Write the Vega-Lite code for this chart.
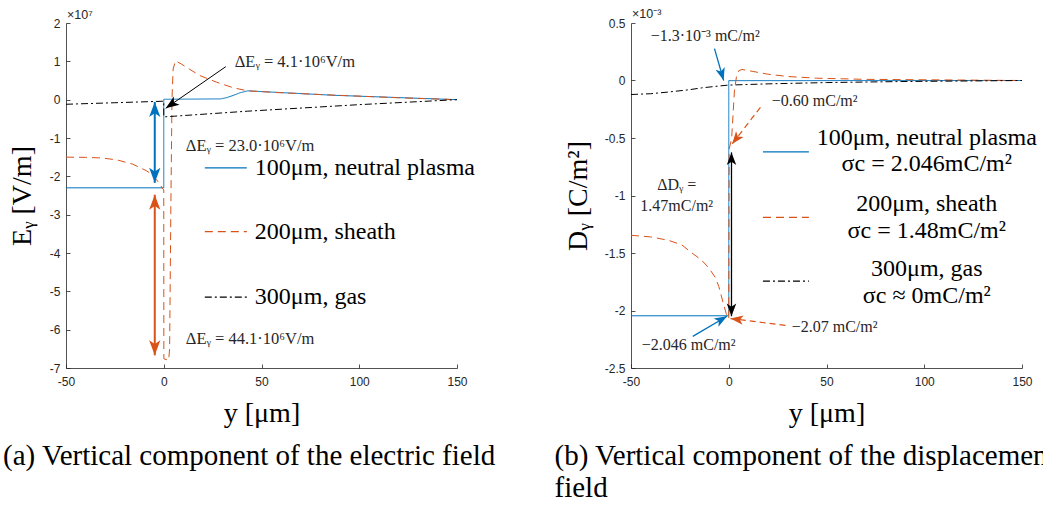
{
  "$schema": "https://vega.github.io/schema/vega-lite/v6.json",
  "background": "white",
  "padding": {"left": 3, "top": 8, "right": 0, "bottom": 0},
  "bounds": "flush",
  "spacing": 174,
  "config": {
    "view": {"stroke": null},
    "axis": {
      "grid": false,
      "domainColor": "#262626",
      "domainWidth": 0.8,
      "tickColor": "#262626",
      "tickWidth": 0.8,
      "tickSize": -4,
      "labelOverlap": false,
      "labelBound": false,
      "labelFlush": false,
      "labelColor": "#262626",
      "labelFont": "Liberation Sans",
      "labelFontSize": 12,
      "titleFont": "Liberation Serif",
      "titleFontSize": 28,
      "titleFontWeight": "normal",
      "titleColor": "black"
    },
    "axisX": {"labelPadding": 12, "titlePadding": 12, "labelOverlap": false},
    "axisY": {"labelPadding": 10, "titlePadding": 8, "labelOverlap": false},
    "axisQuantitative": {"labelOverlap": false},
    "text": {"font": "Liberation Serif"}
  },
  "datasets": {
    "fieldE": [
      {"s": "100μm", "i": 1, "x": -50, "v": -2.3},
      {"s": "100μm", "i": 2, "x": 0, "v": -2.3},
      {"s": "100μm", "i": 3, "x": 0, "v": 0.01},
      {"s": "100μm", "i": 4, "x": 29, "v": 0.02},
      {"s": "100μm", "i": 5, "x": 32, "v": 0.05},
      {"s": "100μm", "i": 6, "x": 35.5, "v": 0.11},
      {"s": "100μm", "i": 7, "x": 39, "v": 0.18},
      {"s": "100μm", "i": 8, "x": 43, "v": 0.23},
      {"s": "100μm", "i": 9, "x": 86.6, "v": 0.115},
      {"s": "100μm", "i": 10, "x": 150, "v": 0},
      {"s": "200μm", "i": 1, "x": -50, "v": -1.5},
      {"s": "200μm", "i": 2, "x": -40, "v": -1.505},
      {"s": "200μm", "i": 3, "x": -32, "v": -1.52},
      {"s": "200μm", "i": 4, "x": -24, "v": -1.57},
      {"s": "200μm", "i": 5, "x": -16, "v": -1.68},
      {"s": "200μm", "i": 6, "x": -9, "v": -1.85},
      {"s": "200μm", "i": 7, "x": -6, "v": -1.95},
      {"s": "200μm", "i": 8, "x": -3.7, "v": -2.09},
      {"s": "200μm", "i": 9, "x": -2, "v": -2.2},
      {"s": "200μm", "i": 10, "x": -0.5, "v": -2.33},
      {"s": "200μm", "i": 11, "x": 0, "v": -2.35},
      {"s": "200μm", "i": 12, "x": 0.05, "v": -6.76},
      {"s": "200μm", "i": 13, "x": 2.5, "v": -6.8},
      {"s": "200μm", "i": 14, "x": 3, "v": -6.5},
      {"s": "200μm", "i": 15, "x": 3.6, "v": -3},
      {"s": "200μm", "i": 16, "x": 4.2, "v": 0},
      {"s": "200μm", "i": 17, "x": 4.8, "v": 0.8},
      {"s": "200μm", "i": 18, "x": 6, "v": 1.01},
      {"s": "200μm", "i": 19, "x": 9, "v": 0.93},
      {"s": "200μm", "i": 20, "x": 13, "v": 0.8},
      {"s": "200μm", "i": 21, "x": 18.4, "v": 0.63},
      {"s": "200μm", "i": 22, "x": 27, "v": 0.456},
      {"s": "200μm", "i": 23, "x": 35.5, "v": 0.31},
      {"s": "200μm", "i": 24, "x": 43, "v": 0.23},
      {"s": "200μm", "i": 25, "x": 60, "v": 0.18},
      {"s": "200μm", "i": 26, "x": 86.6, "v": 0.12},
      {"s": "200μm", "i": 27, "x": 120, "v": 0.05},
      {"s": "200μm", "i": 28, "x": 150, "v": 0},
      {"s": "300μm", "i": 1, "x": -50, "v": -0.12},
      {"s": "300μm", "i": 2, "x": -25, "v": -0.08},
      {"s": "300μm", "i": 3, "x": 0, "v": -0.04},
      {"s": "300μm", "i": 4, "x": 0, "v": -0.45},
      {"s": "300μm", "i": 5, "x": 43, "v": -0.3},
      {"s": "300μm", "i": 6, "x": 100, "v": -0.13},
      {"s": "300μm", "i": 7, "x": 150, "v": 0}
    ],
    "fieldD": [
      {"s": "100μm", "i": 1, "x": -50, "v": -2.046},
      {"s": "100μm", "i": 2, "x": 0, "v": -2.046},
      {"s": "100μm", "i": 3, "x": 0, "v": -0.0013},
      {"s": "100μm", "i": 4, "x": 150, "v": 0},
      {"s": "200μm", "i": 1, "x": -50, "v": -1.346},
      {"s": "200μm", "i": 2, "x": -40, "v": -1.36},
      {"s": "200μm", "i": 3, "x": -30.7, "v": -1.39},
      {"s": "200μm", "i": 4, "x": -24, "v": -1.43},
      {"s": "200μm", "i": 5, "x": -18.8, "v": -1.5},
      {"s": "200μm", "i": 6, "x": -14, "v": -1.56},
      {"s": "200μm", "i": 7, "x": -10.2, "v": -1.63},
      {"s": "200μm", "i": 8, "x": -7, "v": -1.71},
      {"s": "200μm", "i": 9, "x": -5.1, "v": -1.79},
      {"s": "200μm", "i": 10, "x": -2.6, "v": -1.95},
      {"s": "200μm", "i": 11, "x": -0.9, "v": -2.05},
      {"s": "200μm", "i": 12, "x": 0, "v": -2.07},
      {"s": "200μm", "i": 13, "x": 0.2, "v": -0.6},
      {"s": "200μm", "i": 14, "x": 1.5, "v": -0.5},
      {"s": "200μm", "i": 15, "x": 2.9, "v": -0.09},
      {"s": "200μm", "i": 16, "x": 4, "v": 0.04},
      {"s": "200μm", "i": 17, "x": 5.1, "v": 0.085},
      {"s": "200μm", "i": 18, "x": 6.8, "v": 0.096},
      {"s": "200μm", "i": 19, "x": 12, "v": 0.08},
      {"s": "200μm", "i": 20, "x": 20, "v": 0.055},
      {"s": "200μm", "i": 21, "x": 30, "v": 0.035},
      {"s": "200μm", "i": 22, "x": 45, "v": 0.02},
      {"s": "200μm", "i": 23, "x": 70, "v": 0.01},
      {"s": "200μm", "i": 24, "x": 150, "v": 0},
      {"s": "300μm", "i": 1, "x": -50, "v": -0.122},
      {"s": "300μm", "i": 2, "x": -40, "v": -0.115},
      {"s": "300μm", "i": 3, "x": -30.7, "v": -0.1},
      {"s": "300μm", "i": 4, "x": -20, "v": -0.08},
      {"s": "300μm", "i": 5, "x": -13.8, "v": -0.064},
      {"s": "300μm", "i": 6, "x": -5, "v": -0.048},
      {"s": "300μm", "i": 7, "x": 0, "v": -0.04},
      {"s": "300μm", "i": 8, "x": 20.5, "v": -0.029},
      {"s": "300μm", "i": 9, "x": 50, "v": -0.018},
      {"s": "300μm", "i": 10, "x": 88.6, "v": -0.009},
      {"s": "300μm", "i": 11, "x": 150, "v": 0}
    ]
  },
  "hconcat": [
    {
      "width": 391,
      "height": 345,
      "title": {
        "text": "(a) Vertical component of the electric field",
        "orient": "bottom", "anchor": "start", "frame": "group",
        "dx": -63, "offset": 15,
        "font": "Liberation Serif", "fontSize": 29, "fontWeight": "normal", "color": "black"
      },
      "layer": [
        {
          "data": {"name": "fieldE"},
          "mark": {"type": "line", "strokeWidth": 1},
          "encoding": {
            "x": {"field": "x", "type": "quantitative",
                  "scale": {"domain": [-50, 150], "nice": false, "zero": false},
                  "axis": {"values": [-50, 0, 50, 100, 150], "labelExpr": "'' + datum.value", "labelOverlap": false, "title": "y [μm]"}},
            "y": {"field": "v", "type": "quantitative",
                  "scale": {"domain": [-7, 2], "nice": false, "zero": false},
                  "axis": {"values": [-7, -6, -5, -4, -3, -2, -1, 0, 1, 2], "tickCount": 10, "labelExpr": "'' + datum.value", "labelOverlap": false, "labelSeparation": 0, "title": "Eᵧ [V/m]", "titlePadding": 13}},
            "order": {"field": "i", "type": "quantitative"},
            "color": {"field": "s", "type": "nominal", "legend": null,
                      "scale": {"domain": ["100μm", "200μm", "300μm"], "range": ["#0072BD", "#D95319", "#000000"]}},
            "strokeDash": {"field": "s", "type": "nominal", "legend": null,
                           "scale": {"domain": ["100μm", "200μm", "300μm"], "range": [[1, 0], [8, 5], [7, 3, 2, 3]]}}
          }
        },
        {
          "data": {"values": [
            {"s": "100μm", "x": 21, "x2": 42.5, "v": -1.78},
            {"s": "200μm", "x": 21, "x2": 42.5, "v": -3.44},
            {"s": "300μm", "x": 21, "x2": 42.5, "v": -5.15}
          ]},
          "mark": {"type": "rule", "strokeWidth": 1.2},
          "encoding": {
            "x": {"field": "x", "type": "quantitative"},
            "x2": {"field": "x2"},
            "y": {"field": "v", "type": "quantitative"},
            "color": {"field": "s", "type": "nominal", "legend": null},
            "strokeDash": {"field": "s", "type": "nominal", "legend": null}
          }
        },
        {
          "data": {"values": [
            {"label": "100μm, neutral plasma", "x": 46.6, "v": -1.78},
            {"label": "200μm, sheath", "x": 46.6, "v": -3.44},
            {"label": "300μm, gas", "x": 46.6, "v": -5.15}
          ]},
          "mark": {"type": "text", "align": "left", "baseline": "middle", "fontSize": 24, "color": "black"},
          "encoding": {
            "x": {"field": "x", "type": "quantitative"},
            "y": {"field": "v", "type": "quantitative"},
            "text": {"field": "label"}
          }
        },
        {
          "data": {"values": [
            {"label": "ΔEᵧ = 4.1·10⁶V/m", "x": 36.3, "v": 0.97},
            {"label": "ΔEᵧ = 23.0·10⁶V/m", "x": 11.3, "v": -1.21},
            {"label": "ΔEᵧ = 44.1·10⁶V/m", "x": 11.3, "v": -6.24}
          ]},
          "mark": {"type": "text", "align": "left", "baseline": "middle", "fontSize": 16.5, "color": "#262626"},
          "encoding": {
            "x": {"field": "x", "type": "quantitative"},
            "y": {"field": "v", "type": "quantitative"},
            "text": {"field": "label"}
          }
        },
        {
          "data": {"values": [{"label": "×10⁷", "x": -49.5, "v": 2.2}]},
          "mark": {"type": "text", "align": "left", "baseline": "middle", "font": "Liberation Sans", "fontSize": 12.5, "color": "#262626"},
          "encoding": {
            "x": {"field": "x", "type": "quantitative"},
            "y": {"field": "v", "type": "quantitative"},
            "text": {"field": "label"}
          }
        },
        {
          "data": {"values": [
            {"s": "100μm", "x": -4.6, "v": -0.06, "x2": -4.6, "v2": -2.17},
            {"s": "200μm", "x": -4.6, "v": -2.48, "x2": -4.6, "v2": -6.67}
          ]},
          "mark": {"type": "rule", "strokeWidth": 2},
          "encoding": {
            "x": {"field": "x", "type": "quantitative"},
            "y": {"field": "v", "type": "quantitative"},
            "x2": {"field": "x2"},
            "y2": {"field": "v2"},
            "color": {"field": "s", "type": "nominal", "legend": null}
          }
        },
        {
          "data": {"values": [
            {"s": "300μm", "x": 31.7, "v": 0.86, "x2": 1.0, "v2": -0.225}
          ]},
          "mark": {"type": "rule", "strokeWidth": 1},
          "encoding": {
            "x": {"field": "x", "type": "quantitative"},
            "y": {"field": "v", "type": "quantitative"},
            "x2": {"field": "x2"},
            "y2": {"field": "v2"},
            "color": {"field": "s", "type": "nominal", "legend": null}
          }
        },
        {
          "data": {"values": [
            {"s": "100μm", "x": -4.6, "v": -0.06},
            {"s": "200μm", "x": -4.6, "v": -2.48}
          ]},
          "mark": {"type": "point", "shape": "M0,0 L0.75,2 L0,1.5 L-0.75,2 Z", "filled": true, "opacity": 1, "size": 225, "angle": 0},
          "encoding": {
            "x": {"field": "x", "type": "quantitative"},
            "y": {"field": "v", "type": "quantitative"},
            "color": {"field": "s", "type": "nominal", "legend": null}
          }
        },
        {
          "data": {"values": [
            {"s": "100μm", "x": -4.6, "v": -2.17},
            {"s": "200μm", "x": -4.6, "v": -6.67}
          ]},
          "mark": {"type": "point", "shape": "M0,0 L0.75,2 L0,1.5 L-0.75,2 Z", "filled": true, "opacity": 1, "size": 225, "angle": 180},
          "encoding": {
            "x": {"field": "x", "type": "quantitative"},
            "y": {"field": "v", "type": "quantitative"},
            "color": {"field": "s", "type": "nominal", "legend": null}
          }
        },
        {
          "data": {"values": [
            {"s": "300μm", "x": 1.0, "v": -0.225}
          ]},
          "mark": {"type": "point", "shape": "M0,0 L0.75,2 L0,1.5 L-0.75,2 Z", "filled": true, "opacity": 1, "size": 180, "angle": 235},
          "encoding": {
            "x": {"field": "x", "type": "quantitative"},
            "y": {"field": "v", "type": "quantitative"},
            "color": {"field": "s", "type": "nominal", "legend": null}
          }
        }
      ]
    },
    {
      "width": 391,
      "height": 345,
      "title": {
        "text": ["(b) Vertical component of the displacement", "field"],
        "orient": "bottom", "anchor": "start", "frame": "group",
        "dx": -76.5, "offset": 15, "lineHeight": 32,
        "font": "Liberation Serif", "fontSize": 29, "fontWeight": "normal", "color": "black"
      },
      "layer": [
        {
          "data": {"name": "fieldD"},
          "mark": {"type": "line", "strokeWidth": 1},
          "encoding": {
            "x": {"field": "x", "type": "quantitative",
                  "scale": {"domain": [-50, 150], "nice": false, "zero": false},
                  "axis": {"values": [-50, 0, 50, 100, 150], "labelExpr": "'' + datum.value", "labelOverlap": false, "title": "y [μm]"}},
            "y": {"field": "v", "type": "quantitative",
                  "scale": {"domain": [-2.5, 0.5], "nice": false, "zero": false},
                  "axis": {"values": [-2.5, -2, -1.5, -1, -0.5, 0, 0.5], "labelExpr": "'' + datum.value", "labelOverlap": false, "title": "Dᵧ [C/m²]", "titlePadding": 12}},
            "order": {"field": "i", "type": "quantitative"},
            "color": {"field": "s", "type": "nominal", "legend": null,
                      "scale": {"domain": ["100μm", "200μm", "300μm"], "range": ["#0072BD", "#D95319", "#000000"]}},
            "strokeDash": {"field": "s", "type": "nominal", "legend": null,
                           "scale": {"domain": ["100μm", "200μm", "300μm"], "range": [[1, 0], [8, 5], [7, 3, 2, 3]]}}
          }
        },
        {
          "data": {"values": [
            {"s": "100μm", "x": 17.5, "x2": 41, "v": -0.62},
            {"s": "200μm", "x": 17.5, "x2": 41, "v": -1.19},
            {"s": "300μm", "x": 17.5, "x2": 41, "v": -1.745}
          ]},
          "mark": {"type": "rule", "strokeWidth": 1.2},
          "encoding": {
            "x": {"field": "x", "type": "quantitative"},
            "x2": {"field": "x2"},
            "y": {"field": "v", "type": "quantitative"},
            "color": {"field": "s", "type": "nominal", "legend": null},
            "strokeDash": {"field": "s", "type": "nominal", "legend": null}
          }
        },
        {
          "data": {"values": [
            {"label": "100μm, neutral plasma", "x": 101.3, "v": -0.497},
            {"label": "σc = 2.046mC/m²", "x": 101.3, "v": -0.724},
            {"label": "200μm, sheath", "x": 101.3, "v": -1.073},
            {"label": "σc = 1.48mC/m²", "x": 101.3, "v": -1.309},
            {"label": "300μm, gas", "x": 101.3, "v": -1.643},
            {"label": "σc ≈ 0mC/m²", "x": 101.3, "v": -1.876}
          ]},
          "mark": {"type": "text", "align": "center", "baseline": "middle", "fontSize": 24, "color": "black"},
          "encoding": {
            "x": {"field": "x", "type": "quantitative"},
            "y": {"field": "v", "type": "quantitative"},
            "text": {"field": "label"}
          }
        },
        {
          "data": {"values": [
            {"label": "−1.3·10⁻³ mC/m²", "x": -39.9, "v": 0.39},
            {"label": "−0.60 mC/m²", "x": 22, "v": -0.175},
            {"label": "−2.07 mC/m²", "x": 32.2, "v": -2.14}
          ]},
          "mark": {"type": "text", "align": "left", "baseline": "middle", "fontSize": 16, "color": "#262626"},
          "encoding": {
            "x": {"field": "x", "type": "quantitative"},
            "y": {"field": "v", "type": "quantitative"},
            "text": {"field": "label"}
          }
        },
        {
          "data": {"values": [
            {"label": "ΔDᵧ =", "x": -26.6, "v": -0.905},
            {"label": "1.47mC/m²", "x": -26.6, "v": -1.09},
            {"label": "−2.046 mC/m²", "x": -20.5, "v": -2.3}
          ]},
          "mark": {"type": "text", "align": "center", "baseline": "middle", "fontSize": 16, "color": "#262626"},
          "encoding": {
            "x": {"field": "x", "type": "quantitative"},
            "y": {"field": "v", "type": "quantitative"},
            "text": {"field": "label"}
          }
        },
        {
          "data": {"values": [{"label": "×10⁻³", "x": -49.5, "v": 0.576}]},
          "mark": {"type": "text", "align": "left", "baseline": "middle", "font": "Liberation Sans", "fontSize": 12.5, "color": "#262626"},
          "encoding": {
            "x": {"field": "x", "type": "quantitative"},
            "y": {"field": "v", "type": "quantitative"},
            "text": {"field": "label"}
          }
        },
        {
          "data": {"values": [
            {"s": "100μm", "x": -7.3, "v": 0.277, "x2": -2.6, "v2": 0.0},
            {"s": "100μm", "x": -18.4, "v": -2.225, "x2": -0.9, "v2": -2.05},
            {"s": "300μm", "x": 1.4, "v": -0.625, "x2": 1.4, "v2": -2.05}
          ]},
          "mark": {"type": "rule", "strokeWidth": 1.3},
          "encoding": {
            "x": {"field": "x", "type": "quantitative"},
            "y": {"field": "v", "type": "quantitative"},
            "x2": {"field": "x2"},
            "y2": {"field": "v2"},
            "color": {"field": "s", "type": "nominal", "legend": null}
          }
        },
        {
          "data": {"values": [
            {"s": "200μm", "x": 16.2, "v": -0.233, "x2": 1.7, "v2": -0.553},
            {"s": "200μm", "x": 29, "v": -2.13, "x2": 0.9, "v2": -2.07}
          ]},
          "mark": {"type": "rule", "strokeWidth": 1.2, "strokeDash": [6, 4]},
          "encoding": {
            "x": {"field": "x", "type": "quantitative"},
            "y": {"field": "v", "type": "quantitative"},
            "x2": {"field": "x2"},
            "y2": {"field": "v2"},
            "color": {"field": "s", "type": "nominal", "legend": null}
          }
        },
        {
          "data": {"values": [{"s": "100μm", "x": -2.6, "v": 0.0}]},
          "mark": {"type": "point", "shape": "M0,0 L0.75,2 L0,1.5 L-0.75,2 Z", "filled": true, "opacity": 1, "size": 160, "angle": 163.6},
          "encoding": {
            "x": {"field": "x", "type": "quantitative"},
            "y": {"field": "v", "type": "quantitative"},
            "color": {"field": "s", "type": "nominal", "legend": null}
          }
        },
        {
          "data": {"values": [{"s": "200μm", "x": 1.7, "v": -0.553}]},
          "mark": {"type": "point", "shape": "M0,0 L0.75,2 L0,1.5 L-0.75,2 Z", "filled": true, "opacity": 1, "size": 160, "angle": 217.8},
          "encoding": {
            "x": {"field": "x", "type": "quantitative"},
            "y": {"field": "v", "type": "quantitative"},
            "color": {"field": "s", "type": "nominal", "legend": null}
          }
        },
        {
          "data": {"values": [{"s": "300μm", "x": 1.4, "v": -0.625}]},
          "mark": {"type": "point", "shape": "M0,0 L0.75,2 L0,1.5 L-0.75,2 Z", "filled": true, "opacity": 1, "size": 160, "angle": 0},
          "encoding": {
            "x": {"field": "x", "type": "quantitative"},
            "y": {"field": "v", "type": "quantitative"},
            "color": {"field": "s", "type": "nominal", "legend": null}
          }
        },
        {
          "data": {"values": [{"s": "300μm", "x": 1.4, "v": -2.05}]},
          "mark": {"type": "point", "shape": "M0,0 L0.75,2 L0,1.5 L-0.75,2 Z", "filled": true, "opacity": 1, "size": 160, "angle": 180},
          "encoding": {
            "x": {"field": "x", "type": "quantitative"},
            "y": {"field": "v", "type": "quantitative"},
            "color": {"field": "s", "type": "nominal", "legend": null}
          }
        },
        {
          "data": {"values": [{"s": "100μm", "x": -0.9, "v": -2.05}]},
          "mark": {"type": "point", "shape": "M0,0 L0.75,2 L0,1.5 L-0.75,2 Z", "filled": true, "opacity": 1, "size": 160, "angle": 59.7},
          "encoding": {
            "x": {"field": "x", "type": "quantitative"},
            "y": {"field": "v", "type": "quantitative"},
            "color": {"field": "s", "type": "nominal", "legend": null}
          }
        },
        {
          "data": {"values": [{"s": "200μm", "x": 0.9, "v": -2.07}]},
          "mark": {"type": "point", "shape": "M0,0 L0.75,2 L0,1.5 L-0.75,2 Z", "filled": true, "opacity": 1, "size": 160, "angle": 277.3},
          "encoding": {
            "x": {"field": "x", "type": "quantitative"},
            "y": {"field": "v", "type": "quantitative"},
            "color": {"field": "s", "type": "nominal", "legend": null}
          }
        }
      ]
    }
  ]
}
